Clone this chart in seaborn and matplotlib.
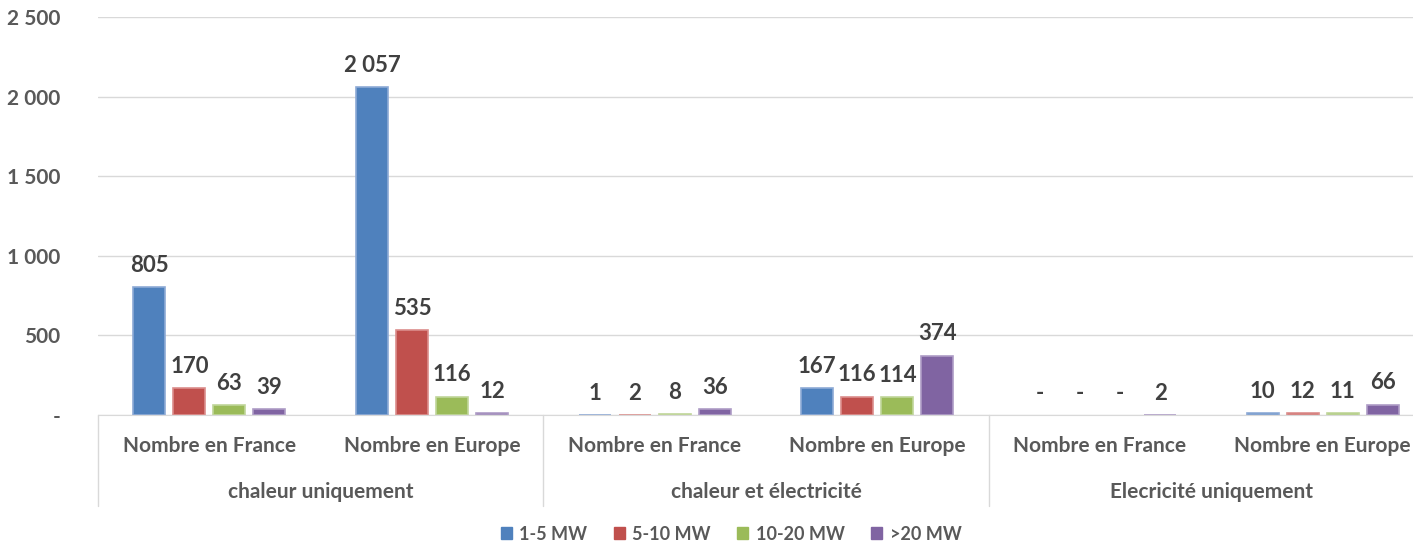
import pandas as pd
import matplotlib.pyplot as plt
import seaborn as sns

# chart data
groups = ["chaleur uniquement", "chaleur et électricité", "Elecricité uniquement"]
places = ["Nombre en France", "Nombre en Europe"]
sizes = ["1-5 MW", "5-10 MW", "10-20 MW", ">20 MW"]
mw_1_5 = [805, 2057, 1, 167, 0, 10]
mw_5_10 = [170, 535, 2, 116, 0, 12]
mw_10_20 = [63, 116, 8, 114, 0, 11]
mw_20_plus = [39, 12, 36, 374, 2, 66]

colors = ["#4F81BD", "#C0504D", "#9BBB59", "#8064A2"]
edges = ["#8DAAD6", "#DB8E8C", "#C0D69A", "#AE9CC6"]
text_grey = "#595959"

def fmt(v):
    return "-" if v == 0 else f"{v:,}".replace(",", " ")

# long form table
slots = [f"{g}|{p}" for g in groups for p in places]
rows = []
for size, vals in zip(sizes, [mw_1_5, mw_5_10, mw_10_20, mw_20_plus]):
    for slot, v in zip(slots, vals):
        rows.append({"slot": slot, "size": size, "count": v})
df = pd.DataFrame(rows)

sns.set_style("white")
plt.rcParams["font.family"] = ["Lato", "DejaVu Sans"]

fig = plt.figure(figsize=(14.13, 5.44), dpi=100)
# the original chart is cut off on the right, so the axes run past the figure edge
ax = fig.add_axes([98 / 1413, 0.237, 1336 / 1413, 0.732])

sns.barplot(data=df, x="slot", y="count", hue="size", order=slots, hue_order=sizes,
            palette=colors, saturation=1, width=0.72, gap=0.2, legend=False, ax=ax)

for cont, ec in zip(ax.containers, edges):
    for bar in cont:
        bar.set_edgecolor(ec)
        # empty values get no outline at all
        bar.set_linewidth(1.2 if bar.get_height() > 0 else 0)
    labels = [fmt(int(round(b.get_height()))) for b in cont]
    ax.bar_label(cont, labels=labels, padding=8, fontsize=16, fontweight="bold",
                 color="#404040")

ax.set_xlim(-0.5, len(slots) - 0.5)
ax.set_ylim(0, 2500)
ax.set_yticks([0, 500, 1000, 1500, 2000, 2500])
ax.set_yticklabels([fmt(v) for v in [0, 500, 1000, 1500, 2000, 2500]],
                   fontsize=15, fontweight="bold", color=text_grey)
ax.tick_params(axis="y", length=0, pad=27)
ax.yaxis.grid(True, color="#D9D9D9", linewidth=1)
ax.set_axisbelow(True)
for s in ["top", "right", "left"]:
    ax.spines[s].set_visible(False)
ax.spines["bottom"].set_color("#D9D9D9")
ax.set_xlabel("")
ax.set_ylabel("")
ax.set_xticks([])

# two level category axis
trans = ax.get_xaxis_transform()
for i, slot in enumerate(slots):
    ax.text(i, -0.077, slot.split("|")[1], transform=trans, ha="center", va="center",
            fontsize=15, fontweight="bold", color=text_grey)
for j, g in enumerate(groups):
    ax.text(2 * j + 0.5, -0.192, g, transform=trans, ha="center", va="center",
            fontsize=15, fontweight="bold", color=text_grey)
for xs in [-0.5, 1.5, 3.5, 5.5]:
    ax.plot([xs, xs], [0, -0.228], transform=trans, color="#D9D9D9", linewidth=1,
            clip_on=False)

handles = [plt.Rectangle((0, 0), 1, 1, color=c) for c in colors]
fig.legend(handles, sizes, loc="center", bbox_to_anchor=(731 / 1413, 1 - 534 / 544),
           ncol=4, frameon=False, handlelength=0.6, handleheight=0.6, handletextpad=0.4,
           columnspacing=1.5, prop={"size": 13, "weight": "bold"}, labelcolor=text_grey)

fig.savefig("out.png", dpi=100)
